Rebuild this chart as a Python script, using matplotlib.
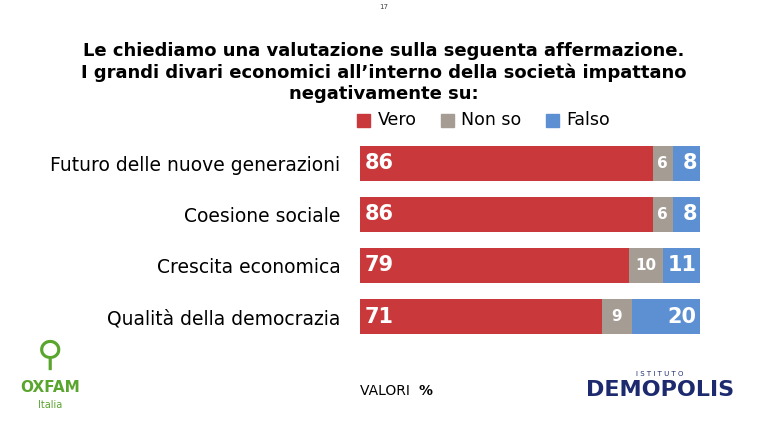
import matplotlib
matplotlib.use("Agg")
import matplotlib.pyplot as plt

categories = ["Futuro delle nuove generazioni", "Coesione sociale", "Crescita economica", "Qualità della democrazia"]
vero = [86, 86, 79, 71]
nonso = [6, 6, 10, 9]
falso = [8, 8, 11, 20]
series = ["Vero", "Non so", "Falso"]
colors = ["#C9393B", "#A59C94", "#5C90D2"]

fig = plt.figure(figsize=(7.67, 4.26), dpi=100)
ax = fig.add_axes([0.469, 0.197, 0.444, 0.48])
y = list(range(len(categories)))
left = [0]*4
for vals, c in zip([vero, nonso, falso], colors):
    ax.barh(y, vals, left=left, color=c, height=0.68)
    left = [l+v for l, v in zip(left, vals)]
for i in y:
    ax.text(1.5, i, str(vero[i]), color="white", fontsize=15, fontweight="bold", va="center", ha="left")
    ax.text(vero[i]+nonso[i]/2, i, str(nonso[i]), color="white", fontsize=11, fontweight="bold", va="center", ha="center")
    ax.text(99, i, str(falso[i]), color="white", fontsize=15, fontweight="bold", va="center", ha="right")
ax.set_xlim(0, 100)
ax.set_ylim(3.5, -0.5)
ax.set_yticks(y)
ax.set_yticklabels(categories, fontsize=13.5)
ax.tick_params(length=0, pad=14)
ax.set_xticks([])
for s in ax.spines.values():
    s.set_visible(False)

fig.text(0.5, 0.83, "Le chiediamo una valutazione sulla seguenta affermazione.\nI grandi divari economici all’interno della società impattano\nnegativamente su:",
         ha="center", va="center", fontsize=13, fontweight="bold", linespacing=1.25)
fig.text(0.5, 0.99, "17", fontsize=5, ha="center", va="top", color="#444444")
# legend
lx = [0.466, 0.575, 0.712]
for x, s, c in zip(lx, series, colors):
    fig.patches.append(plt.Rectangle((x, 0.703), 0.017, 0.03, color=c, transform=fig.transFigure))
    fig.text(x+0.026, 0.718, s, fontsize=12.5, va="center")
fig.text(0.47, 0.082, "VALORI ", fontsize=10, va="center")
fig.text(0.545, 0.082, "%", fontsize=10, va="center", fontweight="bold")
fig.text(0.065, 0.165, "⚲", fontsize=26, color="#5AA52E", ha="center", va="center")
fig.text(0.065, 0.09, "OXFAM", fontsize=11, color="#5AA52E", ha="center", va="center", fontweight="bold")
fig.text(0.065, 0.05, "Italia", fontsize=7, color="#5AA52E", ha="center", va="center")
fig.text(0.86, 0.085, "DEMOPOLIS", fontsize=16, color="#1E2A6E", ha="center", va="center", fontweight="bold")
fig.text(0.86, 0.123, "I S T I T U T O", fontsize=5, color="#1E2A6E", ha="center", va="center")
fig.savefig("out.png", dpi=100)
